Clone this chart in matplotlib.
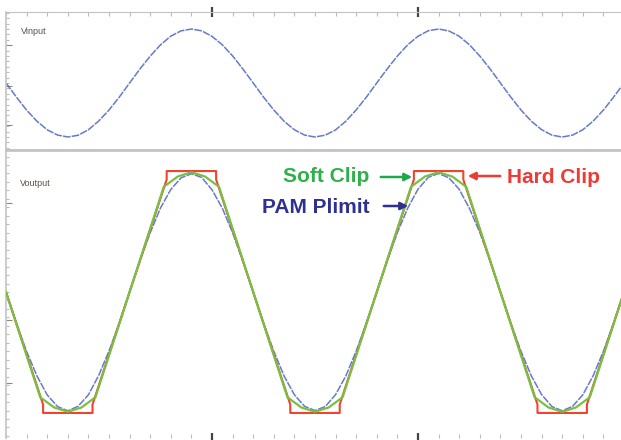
import numpy as np
import matplotlib
matplotlib.use("Agg")
import matplotlib.pyplot as plt
from matplotlib.ticker import MultipleLocator, FixedLocator

# time axis in ms, one sample every 0.05 ms (period 1.2 ms)
t_sine = [0.05 * k for k in range(61)]

vin = [0.000, -0.259, -0.502, -0.707, -0.866, -0.964, -1.000, -0.968, -0.866, -0.705, -0.500, -0.261,
       0.000, 0.259, 0.498, 0.707, 0.868, 0.966, 1.000, 0.966, 0.864, 0.707, 0.502, 0.259,
       0.000, -0.261, -0.500, -0.709, -0.866, -0.966, -1.000, -0.966, -0.868, -0.707, -0.498, -0.259,
       0.002, 0.259, 0.500, 0.707, 0.866, 0.968, 1.000, 0.964, 0.866, 0.707, 0.500, 0.261,
       0.000, -0.259, -0.500, -0.707, -0.864, -0.966, -1.000, -0.966, -0.866, -0.707, -0.502, -0.259,
       0.000]

pam_plimit = [0.000, -0.254, -0.492, -0.693, -0.851, -0.947, -0.982, -0.945, -0.850, -0.690, -0.488, -0.256,
              0.004, 0.256, 0.490, 0.695, 0.848, 0.944, 0.978, 0.947, 0.845, 0.693, 0.490, 0.252,
              0.000, -0.256, -0.490, -0.695, -0.850, -0.946, -0.980, -0.947, -0.848, -0.693, -0.488, -0.254,
              0.000, 0.254, 0.492, 0.693, 0.850, 0.948, 0.980, 0.944, 0.849, 0.690, 0.492, 0.256,
              0.000, -0.254, -0.490, -0.693, -0.848, -0.947, -0.982, -0.946, -0.850, -0.693, -0.490, -0.254,
              0.000]

# hard clip polyline vertices
t_hard = [0.0, 0.18, 0.18, 0.42, 0.42, 0.78, 0.78, 1.02, 1.02, 1.38, 1.38, 1.62, 1.62,
          1.98, 1.98, 2.22, 2.22, 2.58, 2.58, 2.82, 2.82, 3.0]
v_hard = [0.0, -0.93, -1.0, -1.0, -0.93, 0.93, 1.0, 1.0, 0.93, -0.93, -1.0, -1.0, -0.93,
          0.93, 1.0, 1.0, 0.93, -0.93, -1.0, -1.0, -0.93, 0.0]

# soft clip polyline vertices
t_soft = [0.0, 0.166, 0.234, 0.3, 0.366, 0.434,
          0.766, 0.834, 0.9, 0.966, 1.034,
          1.366, 1.434, 1.5, 1.566, 1.634,
          1.966, 2.034, 2.1, 2.166, 2.234,
          2.566, 2.634, 2.7, 2.766, 2.834, 3.0]
v_soft = [0.0, -0.87, -0.955, -0.99, -0.955, -0.87,
          0.87, 0.955, 0.99, 0.955, 0.87,
          -0.87, -0.955, -0.99, -0.955, -0.87,
          0.87, 0.955, 0.99, 0.955, 0.87,
          -0.87, -0.955, -0.99, -0.955, -0.87, 0.0]

W, H = 621, 440
fig = plt.figure(figsize=(W / 100, H / 100), dpi=100)

def px(x, y):
    return x / W, 1 - y / H

blue = '#4a63c2'
green = '#78c043'
red = '#f0442f'
spine_c = '#c4c4c4'

ax1 = fig.add_axes([6 / W, 1 - 150 / H, 615 / W, 138 / H])
ax2 = fig.add_axes([6 / W, 1 - 438 / H, 615 / W, 288 / H])

ax1.plot(t_sine, vin, color=blue, lw=1.1, ls=(0, (5, 0.8)), alpha=0.85)
ax2.plot(t_sine, pam_plimit, color=blue, lw=1.1, ls=(0, (5, 0.8)), alpha=0.85, zorder=1)
ax2.plot(t_hard, v_hard, color=red, lw=1.5, zorder=2)
ax2.plot(t_soft, v_soft, color=green, lw=1.6, zorder=3)

ax1.set_ylim(-1.241, 1.315)
ax2.set_ylim(-1.207, 1.174)

for ax in (ax1, ax2):
    ax.set_xlim(0, 615 / 206)
    ax.xaxis.set_major_locator(FixedLocator([1.0, 2.0]))
    ax.xaxis.set_minor_locator(MultipleLocator(0.1))
    ax.set_xticklabels([])
    ax.set_yticklabels([])
    ax.spines['right'].set_visible(False)
    ax.spines['left'].set_color(spine_c)
    ax.spines['left'].set_linewidth(1.2)
    ax.tick_params(which='major', axis='x', direction='inout', length=7, width=1.6, color='#444444')
    ax.tick_params(which='minor', axis='x', direction='in', length=3, width=0.8, color='#bbbbbb')
    ax.tick_params(which='both', axis='y', direction='in', left=True, color='#bbbbbb', width=0.8)
    ax.tick_params(which='minor', axis='y', length=2)
    ax.tick_params(which='major', axis='y', length=4, color='#888888')

ax1.xaxis.set_ticks_position('top')
ax1.spines['top'].set_color(spine_c)
ax1.spines['bottom'].set_color(spine_c)
ax1.spines['bottom'].set_linewidth(2.0)
ax1.yaxis.set_major_locator(FixedLocator([-0.77, -0.05, 0.7]))
ax1.yaxis.set_minor_locator(MultipleLocator(0.1))

ax2.xaxis.set_ticks_position('bottom')
ax2.spines['top'].set_color(spine_c)
ax2.spines['top'].set_linewidth(2.0)
ax2.spines['bottom'].set_visible(False)
ax2.yaxis.set_major_locator(FixedLocator([-0.75, -0.23, 0.735]))
ax2.yaxis.set_minor_locator(MultipleLocator(0.07))

small = dict(fontsize=6.5, color='#5e4e46', family='Liberation Sans', va='center', ha='left')
fig.text(*px(21, 32), 'Vinput', **small)
fig.text(*px(20, 183), 'Voutput', **small)

lab = dict(fontsize=15, fontweight='bold', family='Liberation Sans', va='center')
fig.text(*px(283, 176), 'Soft Clip', color='#2fb04a', ha='left', **lab)
fig.text(*px(507, 177), 'Hard Clip', color='#ee3a35', ha='left', **lab)
fig.text(*px(262, 207), 'PAM Plimit', color='#2e3192', ha='left', **lab)

arrows = [((378, 177), (415, 177), '#1fa84a'),
          ((503, 176), (465, 176), '#ee3a35'),
          ((381, 206), (411, 206), '#2e3192')]
for start, end, c in arrows:
    fig.add_artist(matplotlib.patches.FancyArrowPatch(
        px(*start), px(*end), transform=fig.transFigure,
        arrowstyle='-|>', mutation_scale=11, lw=1.8, color=c))

fig.savefig('out.png', dpi=100)
